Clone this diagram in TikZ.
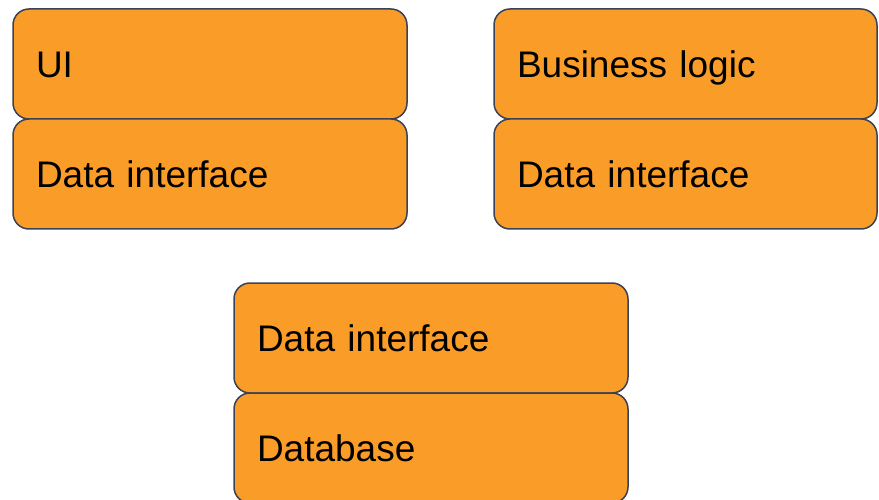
\documentclass[tikz,border=0pt]{standalone}
\usepackage{fontspec}
\setmainfont{Liberation Sans}
\usetikzlibrary{positioning}
\definecolor{layerfill}{HTML}{F99D28}
\definecolor{layerdraw}{HTML}{3B4257}

\begin{document}
\begin{tikzpicture}[x=1pt, y=-1pt,
    layer/.style={draw=layerdraw, fill=layerfill, line width=1.5pt,
        rounded corners=16pt, outer sep=0pt, minimum height=110pt,
        text width=#1, inner xsep=23pt, align=left,
        font=\fontsize{37}{44}\selectfont, text height=26.5pt, text depth=0pt}]

    \useasboundingbox (0,0) rectangle (879,500);

    % left tier
    \node[layer=348pt, anchor=north west] (ui)   at (13,9) {UI};
    \node[layer=348pt, below=0pt of ui]   (uidi) {Data interface};

    % right tier
    \node[layer=337pt, anchor=north west] (bl)   at (494,9) {Business logic};
    \node[layer=337pt, below=0pt of bl]   (bldi) {Data interface};

    % bottom tier
    \node[layer=348pt, anchor=north west] (dbdi) at (234,283) {Data interface};
    \node[layer=348pt, below=0pt of dbdi] (db)   {Database};
\end{tikzpicture}
\end{document}
